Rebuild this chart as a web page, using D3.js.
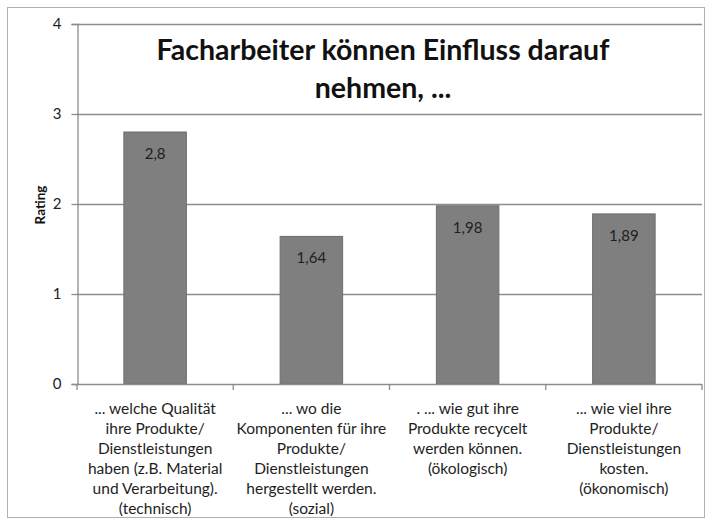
<!DOCTYPE html>
<html>
<head>
<meta charset="utf-8">
<script src="https://cdn.jsdelivr.net/npm/d3@7"></script>
<style>
  body { margin: 0; background: #fff; }
  svg { display: block; font-family: Lato, "Open Sans", sans-serif; }
</style>
</head>
<body>
<svg id="chart" width="711" height="525"></svg>
<script>
// Kategorien (mehrzeilige Achsenbeschriftung)
const categories = [
    ['... welche Qualität', 'ihre Produkte/', 'Dienstleistungen', 'haben (z.B. Material', 'und Verarbeitung).', '(technisch)'],
    ['... wo die', 'Komponenten für ihre', 'Produkte/', 'Dienstleistungen', 'hergestellt werden.', '(sozial)'],
    ['. ... wie gut ihre', 'Produkte recycelt', 'werden können.', '(ökologisch)'],
    ['... wie viel ihre', 'Produkte/', 'Dienstleistungen', 'kosten.', '(ökonomisch)']
];
const ratings = [2.8, 1.64, 1.98, 1.89];
const ratingLabels = ['2,8', '1,64', '1,98', '1,89'];
const yTicks = [0, 1, 2, 3, 4];
const titleLines = ['Facharbeiter können Einfluss darauf', 'nehmen, ...'];

const margin = { top: 24, right: 9, bottom: 141, left: 77 };
const width = 711;
const height = 525;

let svg = d3.select('#chart');

// äußerer Rahmen
svg.append('rect')
    .attr('x', 7.5).attr('y', 7.5)
    .attr('width', 697).attr('height', 510)
    .attr('fill', '#fff')
    .attr('stroke', '#b0b0b0');

let x = d3.scaleBand()
    .domain(d3.range(categories.length))
    .range([margin.left, width - margin.right])
    .paddingInner(0.6)
    .paddingOuter(0.3);

let y = d3.scaleLinear()
    .domain([0, 4])
    .range([height - margin.bottom, margin.top]);

// Gitterlinien
svg.append('g')
    .selectAll('line')
    .data(yTicks.slice(1))
    .join('line')
    .attr('x1', margin.left).attr('x2', width - margin.right)
    .attr('y1', d => Math.round(y(d)) + 0.5)
    .attr('y2', d => Math.round(y(d)) + 0.5)
    .attr('stroke', '#8c8c8c')
    .attr('stroke-width', 1.3);

// Y-Achse
let yAxis = svg.append('g')
    .attr('transform', `translate(${margin.left + 0.5},0)`)
    .call(d3.axisLeft(y).tickValues(yTicks).tickSize(6).tickPadding(10).tickFormat(d3.format('d')));
yAxis.select('.domain').attr('stroke', '#8c8c8c').attr('stroke-width', 1.3);
yAxis.selectAll('.tick line').attr('stroke', '#8c8c8c').attr('stroke-width', 1.3);
yAxis.selectAll('.tick text')
    .attr('font-size', 15)
    .attr('font-family', 'Lato, sans-serif')
    .attr('fill', '#222');

// Balken
svg.append('g')
    .selectAll('rect')
    .data(ratings)
    .join('rect')
    .attr('x', (d, i) => x(i))
    .attr('y', d => y(d))
    .attr('width', x.bandwidth())
    .attr('height', d => y(0) - y(d))
    .attr('fill', '#7f7f7f')
    .attr('stroke', '#6e6e6e')
    .attr('stroke-width', 1);

// Werte in den Balken
svg.append('g')
    .selectAll('text')
    .data(ratings)
    .join('text')
    .attr('x', (d, i) => x(i) + x.bandwidth() / 2)
    .attr('y', d => y(d) + 27)
    .attr('text-anchor', 'middle')
    .attr('font-size', 15)
    .attr('fill', '#1e1e1e')
    .text((d, i) => ratingLabels[i]);

// X-Achse mit Trennstrichen zwischen Kategorien
let x0 = y(0);
svg.append('line')
    .attr('x1', margin.left).attr('x2', width - margin.right)
    .attr('y1', x0 + 0.5).attr('y2', x0 + 0.5)
    .attr('stroke', '#8c8c8c').attr('stroke-width', 1.3);
svg.append('g')
    .selectAll('line')
    .data(d3.range(categories.length + 1))
    .join('line')
    .attr('x1', i => margin.left + i * (width - margin.left - margin.right) / categories.length)
    .attr('x2', i => margin.left + i * (width - margin.left - margin.right) / categories.length)
    .attr('y1', x0).attr('y2', x0 + 6)
    .attr('stroke', '#8c8c8c').attr('stroke-width', 1.3);

// Kategorienbeschriftung
let catG = svg.append('g')
    .selectAll('text')
    .data(categories)
    .join('text')
    .attr('text-anchor', 'middle')
    .attr('font-size', 15.5)
    .attr('fill', '#1e1e1e');
catG.each(function (lines, i) {
    d3.select(this).selectAll('tspan')
        .data(lines)
        .join('tspan')
        .attr('x', x(i) + x.bandwidth() / 2)
        .attr('y', (l, k) => 414 + k * 20)
        .text(l => l);
});

// Titel
svg.append('g')
    .selectAll('text')
    .data(titleLines)
    .join('text')
    .attr('x', 383)
    .attr('y', (d, i) => 60 + i * 38)
    .attr('text-anchor', 'middle')
    .attr('font-size', 28.5)
    .attr('font-weight', 'bold')
    .attr('fill', '#111')
    .text(d => d);

// Achsentitel
svg.append('text')
    .attr('transform', 'translate(45,205) rotate(-90)')
    .attr('text-anchor', 'middle')
    .attr('font-size', 13.5)
    .attr('font-weight', 'bold')
    .attr('fill', '#111')
    .text('Rating');
</script>
</body>
</html>
